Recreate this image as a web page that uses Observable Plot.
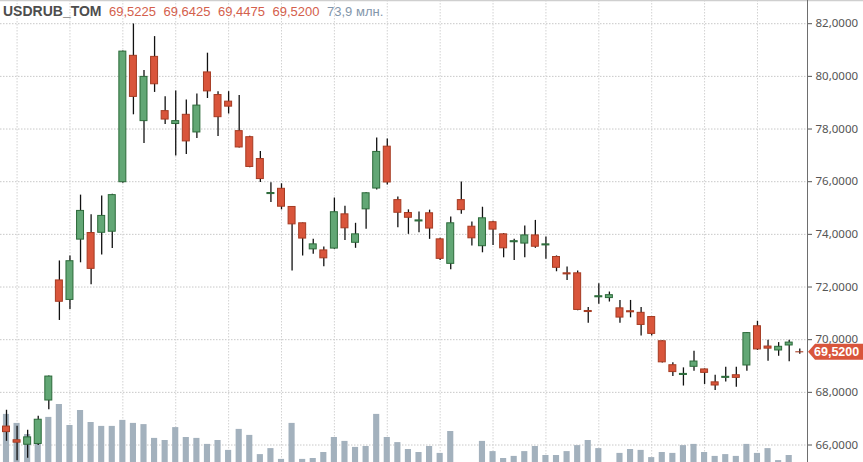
<!DOCTYPE html>
<html><head><meta charset="utf-8">
<script src="https://cdn.jsdelivr.net/npm/d3@7"></script>
<script src="https://cdn.jsdelivr.net/npm/@observablehq/plot@0.6"></script>
<style>
body{margin:0;background:#fff;font-family:"Liberation Sans",Arial,sans-serif;}
#wrap{position:relative;width:863px;height:462px;overflow:hidden;background:#fff;}
#wrap svg{position:absolute;left:0;top:0;overflow:hidden;}
#legend{position:absolute;left:3px;top:3px;font-size:13px;line-height:16px;white-space:nowrap;z-index:5;}
#legend span{display:inline-block;margin-right:7.5px;}
#legend .t{font-weight:bold;font-size:14px;color:#4d4d4d;}
#legend .p{color:#d4604c;}
#legend .v{color:#8396ab;}
</style></head><body>
<div id="wrap"><div id="legend"></div></div>
<script>
const ticker = "USDRUB_TOM";
const volumeLabel = "73,9 млн.";
const openP  = [66.70,66.18,66.01,66.04,67.69,72.25,71.51,73.80,74.05,74.06,74.10,75.98,80.78,78.30,80.74,78.68,78.19,78.54,77.87,80.15,79.29,79.04,77.92,77.69,76.86,75.53,75.73,75.04,74.42,73.43,73.39,73.46,74.76,73.68,74.95,75.74,77.33,75.30,74.81,74.49,74.80,73.81,72.88,75.30,74.29,73.55,74.46,74.00,73.70,73.65,73.96,73.58,73.14,72.52,72.52,71.09,71.61,71.58,71.19,71.08,71.02,70.86,69.94,69.03,68.66,68.97,68.87,68.38,68.55,68.65,69.02,70.51,69.74,69.59,69.78,69.5225];
const highP  = [67.32,66.71,66.56,67.09,68.62,72.99,73.18,75.49,74.74,75.46,75.52,80.96,81.99,80.22,81.51,79.23,79.44,79.10,79.33,80.88,79.42,79.42,79.27,77.73,77.15,75.96,75.92,75.05,74.43,73.81,73.52,75.38,75.07,74.42,75.58,77.66,77.62,75.42,74.93,74.85,74.92,73.85,74.66,75.99,74.47,75.03,74.50,74.03,73.81,74.32,74.53,73.90,73.18,72.76,72.61,71.22,72.12,71.81,71.49,71.49,71.22,70.88,69.96,69.12,68.93,69.56,68.89,68.65,68.95,68.95,70.27,70.70,69.98,69.89,69.98,69.6425];
const lowP   = [66.14,65.40,65.50,65.98,67.34,70.73,71.15,72.92,72.09,73.22,73.46,75.94,78.54,77.45,79.39,78.17,76.98,77.03,77.64,79.16,77.72,78.57,77.28,76.53,75.97,75.21,74.93,72.61,73.18,73.24,72.77,73.43,73.77,73.47,74.19,75.68,75.87,74.25,74.00,74.06,73.81,73.01,72.66,74.76,73.56,73.30,73.58,73.11,73.01,73.11,73.47,73.05,72.58,72.25,71.10,70.62,71.35,71.43,70.62,70.83,70.14,70.14,69.11,68.60,68.24,68.80,68.30,68.07,68.39,68.19,68.80,69.59,69.18,69.37,69.16,69.4475];
const closeP = [66.49,66.09,66.29,66.96,68.60,71.44,72.98,74.89,72.69,74.70,75.49,80.94,79.22,79.98,79.70,78.36,78.30,77.53,78.89,79.43,78.45,78.85,77.30,76.56,76.10,75.57,75.05,74.38,73.84,73.62,73.09,74.84,74.23,74.00,75.56,77.13,75.97,74.82,74.63,74.53,74.22,73.07,74.42,74.92,73.85,74.61,74.18,73.47,73.74,73.96,73.53,73.62,72.73,72.48,71.13,71.05,71.65,71.69,70.84,71.04,70.56,70.22,69.14,68.77,68.70,69.17,68.74,68.26,68.59,68.55,70.25,69.63,69.66,69.73,69.89,69.52];
const volumeM = [287,257,220,190,277,320,250,300,260,247,247,267,257,253,207,200,243,210,207,187,200,167,237,217,153,173,137,257,137,140,160,210,197,177,180,287,210,193,170,160,180,157,230,100,95,197,163,140,147,163,180,150,150,163,183,200,173,110,157,170,167,143,160,157,183,187,160,147,153,147,187,157,173,133,150,73.9];
const yTicks = [66,68,70,72,74,76,78,80,82];
const weekStarts = [1,6,11,16,21,26,31,36,41,46,51,56,61,66,71];

const candles = openP.map((o,i)=>({i, open:o, high:highP[i], low:lowP[i], close:closeP[i], up: closeP[i] >= o}));
const vols = volumeM.map((v,i)=>({i, v}));
const lastC = candles[candles.length-1];
const fmt = v => v.toFixed(4).replace(".", ",");

document.getElementById("legend").innerHTML =
  `<span class="t">${ticker}</span>` +
  [lastC.open,lastC.high,lastC.low,lastC.close].map(v=>`<span class="p">${fmt(v)}</span>`).join("") +
  `<span class="v">${volumeLabel}</span>`;

const W = 863, H = 462;
const xOpt = {type:"linear", domain:[-0.567, 75.73]};
const common = {width:W, height:H, marginLeft:0, marginRight:56, marginTop:0, marginBottom:0, x:{...xOpt, axis:null}};
const yPrice = {domain:[65.336, 82.881], axis:null};

const gridPlot = Plot.plot({
  ...common, y: yPrice,
  style:{background:"#fff"},
  marks:[
    Plot.ruleY(yTicks, {stroke:"#c8c8c8", strokeDasharray:"1.5,1.5"}),
    Plot.ruleX(weekStarts, {stroke:"#d2d2d2", strokeDasharray:"1.5,1.5"})
  ]
});

const volPlot = Plot.plot({
  ...common,
  y:{domain:[0,1000], range:[500,200], axis:null},
  style:{background:"transparent"},
  marks:[
    Plot.rect(vols, {x1:d=>d.i-0.29, x2:d=>d.i+0.29, y1:0, y2:"v", fill:"#a3b1bd"})
  ]
});

const pricePlot = Plot.plot({
  ...common, y: yPrice,
  style:{background:"transparent", overflow:"hidden"},
  marks:[
    Plot.frame({anchor:"right", stroke:"#6e6e6e"}),
    Plot.axisY(yTicks, {anchor:"right", tickFormat:fmt, tickSize:4, tickPadding:4, fontSize:11.5, color:"#555", label:null}),
    Plot.ruleX(candles, {x:"i", y1:"low", y2:"high", stroke:"#111", strokeWidth:1.3}),
    Plot.rect(candles, {x1:d=>d.i-0.33, x2:d=>d.i+0.33, y1:"open", y2:"close",
      fill:d=>d.up ? "#62a775" : "#d9553b",
      stroke:d=>d.up ? "#2c6a3a" : "#a53b22", strokeWidth:1})
  ]
});

const wrap = document.getElementById("wrap");
wrap.appendChild(gridPlot);
wrap.appendChild(volPlot);
wrap.appendChild(pricePlot);

// top border line
d3.select(gridPlot).append("line")
  .attr("x1", 0).attr("x2", W).attr("y1", 0.5).attr("y2", 0.5)
  .attr("stroke", "#cfcfcf").attr("stroke-width", 1.5);

// last price tag
const yS = pricePlot.scale("y"), xS = pricePlot.scale("x");
const ty = yS.apply(lastC.close);
const tx = xS.range[1] + 1;
const svg = d3.select(pricePlot);
svg.append("path")
  .attr("d", `M${tx},${ty} L${tx+7},${ty-8} L${W},${ty-8} L${W},${ty+8} L${tx+7},${ty+8} Z`)
  .attr("fill", "#d9553b");
svg.append("text")
  .attr("x", tx+6).attr("y", ty).attr("dy", "0.36em")
  .attr("text-anchor", "start")
  .attr("fill", "#fff").attr("font-weight", "bold").attr("font-size", 12.5)
  .attr("font-family", "Liberation Sans, Arial, sans-serif")
  .text(fmt(lastC.close));
</script>
</body></html>
